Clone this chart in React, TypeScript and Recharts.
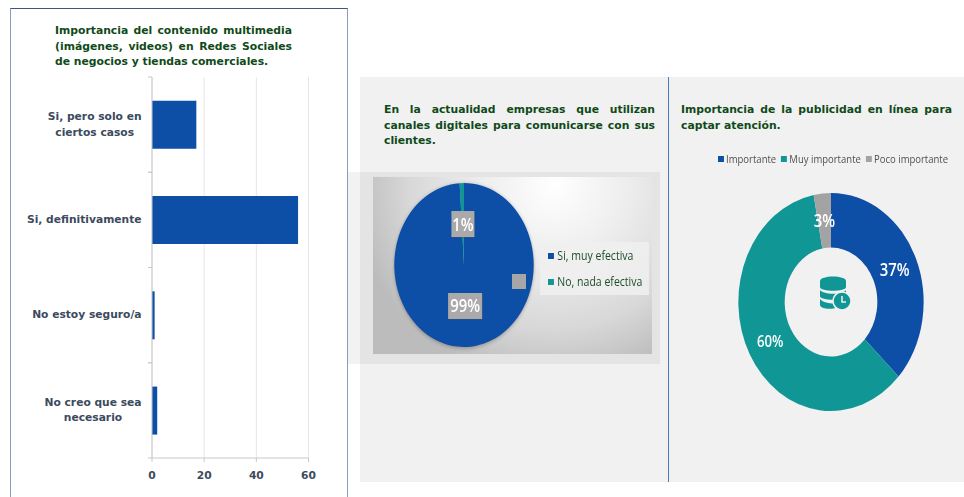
import { Bar, BarChart, CartesianGrid, Cell, Pie, PieChart, XAxis, YAxis } from "recharts";

const BLUE = "#0d4ea6";
const TEAL = "#119696";
const GRAY = "#a3a3a3";
const TITLE_COLOR = "#0f4a18";
const BOLD_FONT = "'DejaVu Sans', Verdana, sans-serif";
const LABEL_FONT = "'Open Sans', 'Noto Sans', sans-serif";
const RADIAN = Math.PI / 180;
const SQUEEZE = 0.85;

const contentCategories = [
	"Si, pero solo en|ciertos casos",
	"Si, definitivamente",
	"No estoy seguro/a",
	"No creo que sea|necesario",
];
const contentValues = [17, 56, 1, 2];
const contentTicks = [0, 20, 40, 60];

const channelNames = ["Si, muy efectiva", "No, nada efectiva"];
const channelValues = [99, 1];
const channelColors = [BLUE, TEAL];

const adNames = ["Importante", "Muy importante", "Poco importante"];
const adValues = [37, 60, 3];
const adColors = [BLUE, TEAL, GRAY];

const contentTitle = [
	"Importancia del contenido multimedia",
	"(imágenes, videos) en Redes Sociales",
	"de negocios y tiendas comerciales.",
];
const channelTitle = [
	"En la actualidad empresas que utilizan",
	"canales digitales para comunicarse con sus",
	"clientes.",
];
const adTitle = ["Importancia de la publicidad en línea para", "captar atención."];

const contentData = contentCategories.map((name, i) => ({ name, value: contentValues[i] }));
const channelData = channelNames.map((name, i) => ({ name, value: channelValues[i] }));
const adData = adNames.map((name, i) => ({ name, value: adValues[i] }));

const BAND = 95.25;

// category label, wrapped and centred, with Excel style ticks on the band edges
function CategoryTick({ x, y, payload }: any) {
	const lines: string[] = payload.value.split("|");
	return (
		<g>
			<line x1={x - 4} x2={x} y1={y - BAND / 2} y2={y - BAND / 2} stroke="#c8c8c8" />
			<line x1={x - 4} x2={x} y1={y + BAND / 2} y2={y + BAND / 2} stroke="#c8c8c8" />
			<foreignObject x={x - 150} y={y - 20} width={139.5} height={40}>
				<div style={{ height: 40, display: "flex", justifyContent: "flex-end", alignItems: "center" }}>
					<div
						style={{
							textAlign: "center",
							font: `bold 10.7px/15.3px ${BOLD_FONT}`,
							color: "#3c4a5e",
							whiteSpace: "nowrap",
						}}
					>
						{lines.map((line) => (
							<div key={line}>{line}</div>
						))}
					</div>
				</div>
			</foreignObject>
		</g>
	);
}

function Title({ lines, left, top, width }: { lines: string[]; left: number; top: number; width: number }) {
	return (
		<div
			style={{
				position: "absolute",
				left,
				top,
				width,
				font: `bold 10.8px/15.7px ${BOLD_FONT}`,
				color: TITLE_COLOR,
			}}
		>
			{lines.map((line, i) => (
				<div key={line} style={{ textAlign: "justify", textAlignLast: i < lines.length - 1 ? "justify" : "left" }}>
					{line}
				</div>
			))}
		</div>
	);
}

// grey value box sitting inside the slice
function BoxLabel({ cx, cy, midAngle, innerRadius, outerRadius, value }: any) {
	const r = (innerRadius + outerRadius) / 2;
	const x = cx + r * Math.cos(-midAngle * RADIAN);
	const y = cy + r * Math.sin(-midAngle * RADIAN);
	const w = value > 9 ? 40 : 27;
	return (
		<g transform={`translate(${x},${y})`}>
			<rect x={-w / 2 + 1} y={-12} width={w} height={26} fill="#555" opacity={0.35} />
			<rect x={-w / 2} y={-13} width={w} height={26} fill="#aaaaaa" />
			<text textAnchor="middle" y={6.5} fill="#fff" style={{ font: `600 17.5px ${LABEL_FONT}` }}>
				{value}%
			</text>
		</g>
	);
}

function PlainLabel({ cx, cy, midAngle, innerRadius, outerRadius, value }: any) {
	const r = (innerRadius + outerRadius) / 2;
	const x = cx + r * Math.cos(-midAngle * RADIAN);
	const y = cy + r * Math.sin(-midAngle * RADIAN);
	return (
		<text
			x={x}
			y={y + 6}
			textAnchor="middle"
			fill="#fff"
			style={{ font: `600 ${value > 50 ? 15.5 : 17.5}px ${LABEL_FONT}` }}
		>
			{value}%
		</text>
	);
}

function LegendSwatch({ color }: { color: string }) {
	return <span style={{ display: "inline-block", width: 6.5, height: 6, background: color }} />;
}

function DatabaseClock() {
	return (
		<svg style={{ position: "absolute", left: 818, top: 274 }} width={36} height={40} viewBox="0 0 36 40">
			<path d="M2 7 C2 1 28 1 28 7 L28 13 C28 18 2 18 2 13 Z" fill={TEAL} />
			<path d="M2 16 C6 21 24 21 28 16 L28 22 C28 27 2 27 2 22 Z" fill={TEAL} />
			<path d="M2 25 C6 30 18 30 20 29 L21 33 C14 36 2 35 2 31 Z" fill={TEAL} />
			<circle cx={24} cy={27} r={9} fill={TEAL} stroke="#f0f0f0" strokeWidth={1.5} />
			<path d="M24 22 L24 28 L28 28" fill="none" stroke="#f0f0f0" strokeWidth={1.5} />
		</svg>
	);
}

export default function App() {
	return (
		<div style={{ position: "absolute", left: 0, top: 0, width: 964, height: 497, background: "#fff", overflow: "hidden" }}>
			{/* left panel */}
			<div
				style={{
					position: "absolute",
					left: 10,
					top: 8,
					width: 336,
					height: 495,
					borderLeft: "1.5px solid #8a9ab8",
					borderRight: "1.5px solid #8a9ab8",
					borderTop: "1.5px solid #3f5580",
				}}
			/>
			<Title lines={contentTitle} left={55} top={23} width={237} />
			<div style={{ position: "absolute", left: 0, top: 0 }}>
				<BarChart
					width={348}
					height={497}
					layout="vertical"
					data={contentData}
					barCategoryGap="25%"
					margin={{ top: 77, right: 39.5, bottom: 0, left: 0 }}
				>
					<CartesianGrid horizontal={false} stroke="#e6e6e6" />
					<XAxis
						type="number"
						domain={[0, 60]}
						ticks={contentTicks}
						height={39}
						stroke="#c8c8c8"
						tickSize={4}
						tickMargin={9}
						tick={{ fill: "#3c4a5e", fontSize: 10.7, fontWeight: 700, fontFamily: BOLD_FONT }}
					/>
					<YAxis
						type="category"
						dataKey="name"
						width={152}
						stroke="#c8c8c8"
						tickLine={false}
						tickSize={0}
						tickMargin={0}
						tick={<CategoryTick />}
					/>
					<Bar dataKey="value" fill={BLUE} isAnimationActive={false} />
				</BarChart>
			</div>

			{/* right panel and its divider */}
			<div style={{ position: "absolute", left: 360, top: 77, width: 604, height: 405, background: "#f1f1f1" }} />
			<div style={{ position: "absolute", left: 668, top: 77, width: 1, height: 405, background: "#4a7cc0" }} />
			<div style={{ position: "absolute", left: 348, top: 172, width: 312, height: 192, background: "rgba(0,0,0,0.05)" }} />
			<div
				style={{
					position: "absolute",
					left: 373,
					top: 177,
					width: 279,
					height: 177,
					background: "radial-gradient(ellipse 72% 112% at 65% 5%, #ffffff 0%, #eeeeee 35%, #d8d8d8 72%, #bcbcbc 100%)",
				}}
			/>
			<Title lines={channelTitle} left={384} top={102} width={271} />
			<Title lines={adTitle} left={681} top={102} width={271} />

			{/* 99/1 pie, squeezed horizontally along with its labels */}
			<div
				style={{
					position: "absolute",
					left: 364,
					top: 165,
					transform: `scaleX(${SQUEEZE})`,
					filter: "drop-shadow(0 1px 2px rgba(0,0,0,0.3))",
				}}
			>
				<PieChart width={200} height={200} margin={{ top: 0, right: 0, bottom: 0, left: 0 }}>
					<Pie
						data={channelData}
						dataKey="value"
						cx={100}
						cy={100}
						innerRadius={0}
						outerRadius={82}
						startAngle={90}
						endAngle={-270}
						stroke="none"
						labelLine={false}
						label={BoxLabel}
						isAnimationActive={false}
					>
						{channelData.map((d, i) => (
							<Cell key={d.name} fill={channelColors[i]} />
						))}
					</Pie>
				</PieChart>
			</div>
			<div style={{ position: "absolute", left: 512, top: 274, width: 14, height: 15, background: "#a6a6a6" }} />
			<div
				style={{
					position: "absolute",
					left: 540,
					top: 242,
					width: 109,
					height: 53,
					background: "rgba(240,240,240,0.85)",
					font: `12.4px ${LABEL_FONT}`,
					color: "#1d4d2a",
				}}
			>
				{channelNames.map((name, i) => (
					<div
						key={name}
						style={{
							position: "absolute",
							left: 8,
							top: 14 + i * 26 - 9,
							display: "flex",
							alignItems: "center",
							gap: 4.5,
							whiteSpace: "nowrap",
							transform: `scaleX(${SQUEEZE})`,
							transformOrigin: "left center",
						}}
					>
						<LegendSwatch color={channelColors[i]} />
						{name}
					</div>
				))}
			</div>

			{/* publicity donut, squeezed the same way */}
			<div style={{ position: "absolute", left: 711, top: 182, transform: `scaleX(${SQUEEZE})` }}>
				<PieChart width={240} height={240} margin={{ top: 0, right: 0, bottom: 0, left: 0 }}>
					<Pie
						data={adData}
						dataKey="value"
						cx={120}
						cy={120}
						innerRadius={54.5}
						outerRadius={109}
						startAngle={90}
						endAngle={-270}
						stroke="none"
						labelLine={false}
						label={PlainLabel}
						isAnimationActive={false}
					>
						{adData.map((d, i) => (
							<Cell key={d.name} fill={adColors[i]} />
						))}
					</Pie>
				</PieChart>
			</div>
			<DatabaseClock />
			<div
				style={{
					position: "absolute",
					left: 718,
					top: 152,
					display: "flex",
					gap: 6,
					font: `11.2px/14px ${LABEL_FONT}`,
					color: "#505050",
					whiteSpace: "nowrap",
					transform: `scaleX(${SQUEEZE})`,
					transformOrigin: "left center",
				}}
			>
				{adNames.map((name, i) => (
					<span key={name} style={{ display: "flex", alignItems: "center", gap: 3 }}>
						<LegendSwatch color={adColors[i]} />
						{name}
					</span>
				))}
			</div>
		</div>
	);
}
